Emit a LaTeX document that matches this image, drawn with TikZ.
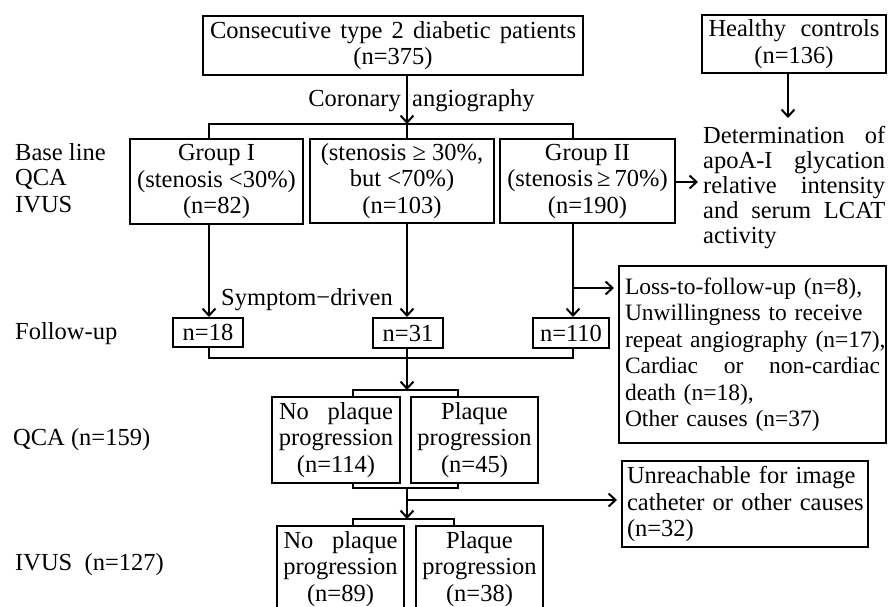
\documentclass[tikz,border=0pt]{standalone}
\usepackage{fontspec}
\setmainfont{Liberation Serif}
\usetikzlibrary{arrows.meta}
\begin{document}
\begin{tikzpicture}[x=1pt,y=-1pt,
  every node/.style={font=\fontsize{24.5}{26.5}\selectfont, inner sep=0pt},
  bx/.style 2 args={draw, line width=2pt, minimum width=#1pt, minimum height=#2pt, align=center},
  conn/.style={line width=2pt},
  arr/.style={line width=2pt, -{Straight Barb[length=7pt,width=13pt]}}
]
\useasboundingbox (0,0) rectangle (888,606);
\clip (0,0) rectangle (888,606);

% boxes
\node[bx={380}{59}] (top) at (393,45.5) {\makebox[366pt][s]{Consecutive type 2 diabetic patients}\\(n=375)};
\node[bx={184}{58}] (hc) at (794,44) {\makebox[171pt][s]{Healthy controls}\\(n=136)};
\node[anchor=base east] (cor) at (401,106) {Coronary};
\node[anchor=base west] (ang) at (412,106) {angiography};

\node[bx={173}{85}] (g1) at (216.5,181.5) {Group I\\(stenosis <30\%)\\(n=82)};
\node[bx={184}{84}] (g2) at (402,181) {(stenosis ≥ 30\%,\\but <70\%)\\(n=103)};
\node[bx={175}{84}] (g3) at (587.5,181) {Group II\\(stenosis\,≥\,70\%)\\(n=190)};

\node[anchor=north west, align=left, font=\fontsize{24.5}{25}\selectfont] (det) at (703,126.3)
  {\makebox[182pt][s]{Determination of}\\\makebox[182pt][s]{apoA-I glycation}\\\makebox[182pt][s]{relative intensity}\\\makebox[182pt][s]{and serum LCAT}\\activity};

\node[bx={70}{29}] (f1) at (208,332.5) {n=18};
\node[bx={70}{30}] (f2) at (408,333) {n=31};
\node[bx={76}{30}] (f3) at (571,333) {n=110};
\node (sym) at (307,300) {Symptom−driven};

\node[bx={267}{177}, align=left, text width=255pt, font=\fontsize{23.5}{26.5}\selectfont] (loss) at (752.5,354.5)
  {\mbox{Loss-to-follow-up (n=8),}\\\mbox{Unwillingness to receive}\\\mbox{repeat angiography (n=17),}\\\makebox[255pt][s]{Cardiac\hfill or\hfill non-cardiac}\\\mbox{death (n=18),}\\\mbox{Other causes (n=37)}};

\node[bx={128}{86}] (q1) at (336,440) {\makebox[114pt][s]{No plaque}\\progression\\(n=114)};
\node[bx={127}{86}] (q2) at (474.5,440) {Plaque\\progression\\(n=45)};

\node[bx={246}{86}, align=left, text width=236pt] (unr) at (745,504) {\mbox{Unreachable for image}\\\mbox{catheter or other causes}\\\mbox{(n=32)}};

\node[bx={127}{86}] (v1) at (340.5,569) {\makebox[114pt][s]{No plaque}\\progression\\(n=89)};
\node[bx={127}{86}] (v2) at (479.5,569) {Plaque\\progression\\(n=38)};

% left labels
\node[anchor=base west] (bl) at (15,160) {Base line};
\node[anchor=base west] (blq) at (15,185) {QCA};
\node[anchor=base west] (bli) at (15,212) {IVUS};
\node[anchor=base west] (fu) at (15,339) {Follow-up};
\node[anchor=base west] (lq) at (13,445) {QCA (n=159)};
\node[anchor=base west] (li) at (15,570) {IVUS\ \ (n=127)};

% connectors
\coordinate (bar1) at (209,124);
\coordinate (bar2) at (407,124);
\coordinate (bar3) at (573,124);
\draw[arr] (top.south -| bar2) -- (bar2);
\draw[conn] (g1.north -| bar1) -- (bar1) -- (bar3) -- (g3.north -| bar3);
\draw[conn] (bar2) -- (g2.north -| bar2);

\coordinate (dettop) at (788,118);
\draw[arr] (hc.south -| dettop) -- (dettop);
\coordinate (detin) at (698,182);
\draw[arr] (g3.east |- detin) -- (detin);

\draw[arr] (g1.south -| bar1) -- (f1.north -| bar1);
\draw[arr] (g2.south -| bar2) -- (f2.north -| bar2);
\draw[arr] (g3.south -| bar3) -- (f3.north -| bar3);
\coordinate (lb) at (573,288);
\draw[arr, shorten >=4pt] (lb) -- (loss.west |- lb);

\coordinate (c1) at (209,358);
\coordinate (c2) at (407,358);
\coordinate (c3) at (573,358);
\draw[conn] (f1.south -| c1) -- (c1) -- (c3) -- (f3.south -| c3);
\draw[conn] (f2.south -| c2) -- (c2);
\coordinate (qtop) at (407,390);
\draw[arr] (c2) -- (qtop);
\coordinate (qb1) at (353,390);
\coordinate (qb2) at (458,390);
\draw[conn] (q1.north -| qb1) -- (qb1) -- (qb2) -- (q2.north -| qb2);

\coordinate (qd1) at (353,488);
\coordinate (qd2) at (458,488);
\coordinate (qd) at (407,488);
\draw[conn] (q1.south -| qd1) -- (qd1) -- (qd2) -- (q2.south -| qd2);
\coordinate (vt) at (407,519);
\draw[arr] (qd) -- (vt);
\coordinate (ub) at (407,500);
\draw[arr, shorten >=4pt] (ub) -- (unr.west |- ub);
\coordinate (vb1) at (353,519);
\coordinate (vb2) at (454,519);
\draw[conn] (v1.north -| vb1) -- (vb1) -- (vb2) -- (v2.north -| vb2);
\end{tikzpicture}
\end{document}
